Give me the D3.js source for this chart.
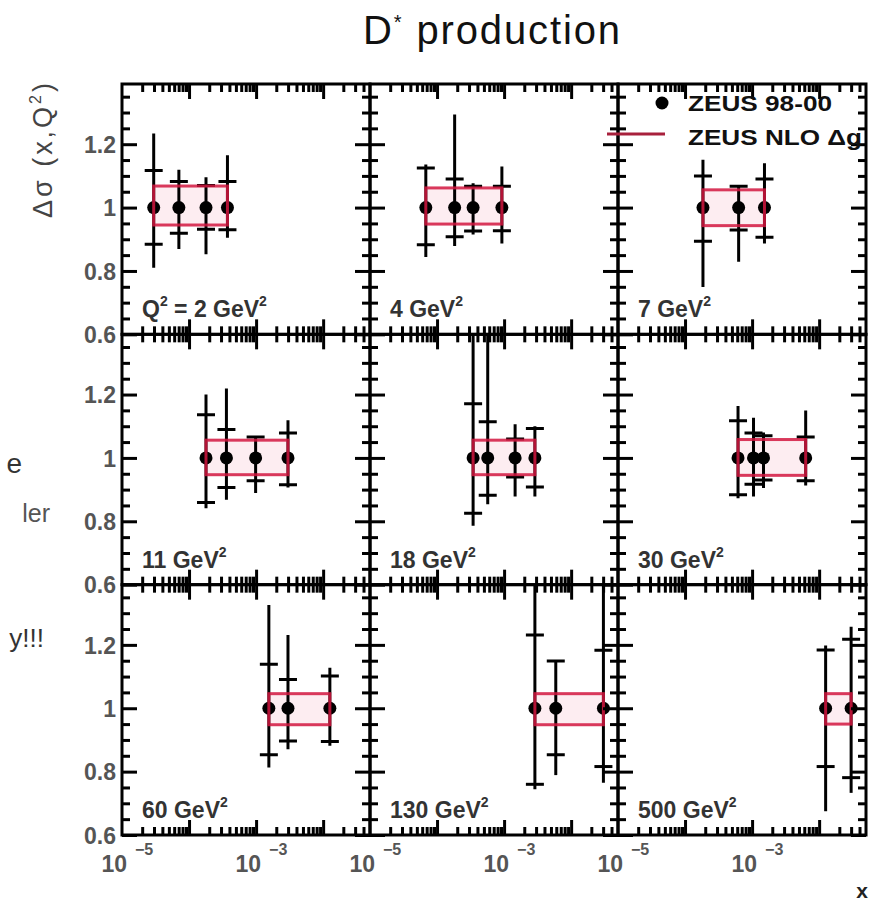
<!DOCTYPE html>
<html><head><meta charset="utf-8">
<script src="https://cdn.jsdelivr.net/npm/d3@7"></script>
<style>
body{margin:0;background:#fff}
svg{display:block}
text{font-family:"Liberation Sans",Arial,Helvetica,sans-serif}
</style>
</head><body>
<svg id="c" width="871" height="901"></svg>
<script>
// ---------------- data ----------------
const q2Values = [2, 4, 7, 11, 18, 30, 60, 130, 500];
const xPoints = [
  [2.97e-5, 7.05e-5, 1.79e-4, 3.74e-4],
  [6.8e-5, 1.83e-4, 3.45e-4, 9.27e-4],
  [1.85e-4, 6.3e-4, 1.53e-3],
  [1.79e-4, 3.61e-4, 9.84e-4, 2.99e-3],
  [3.45e-4, 5.7e-4, 1.46e-3, 2.88e-3],
  [6.17e-4, 1.05e-3, 1.48e-3, 6.3e-3],
  [1.55e-3, 2.99e-3, 1.26e-2],
  [2.88e-3, 5.9e-3, 3.03e-2],
  [1.25e-2, 3.0e-2]
];
const yPoints = [
  [1, 1, 1, 1], [1, 1, 1, 1], [1, 1, 1],
  [1, 1, 1, 1], [1, 1, 1, 1], [1, 1, 1, 1],
  [1, 1, 1], [1, 1, 1], [1, 1]
];
const totHi = [
  [1.234, 1.119, 1.096, 1.165],
  [1.136, 1.294, 1.077, 1.130],
  [1.151, 1.067, 1.140],
  [1.200, 1.219, 1.069, 1.119],
  [1.600, 1.600, 1.106, 1.100],
  [1.164, 1.127, 1.080, 1.150],
  [1.326, 1.231, 1.128],
  [1.600, 1.151, 1.600],
  [1.198, 1.257]
];
const totLo = [
  [0.810, 0.869, 0.853, 0.905],
  [0.844, 0.879, 0.915, 0.887],
  [0.749, 0.829, 0.887],
  [0.841, 0.868, 0.889, 0.907],
  [0.786, 0.854, 0.878, 0.878],
  [0.873, 0.878, 0.905, 0.913],
  [0.813, 0.871, 0.882],
  [0.744, 0.789, 0.765],
  [0.675, 0.733]
];
const statHi = [
  [1.117, 1.082, 1.070, 1.082],
  [1.125, 1.090, 1.067, 1.067],
  [1.100, 1.067, 1.090],
  [1.136, 1.090, 1.066, 1.079],
  [1.171, 1.114, 1.060, 1.093],
  [1.117, 1.079, 1.070, 1.066],
  [1.139, 1.091, 1.102],
  [1.231, 1.149, 1.183],
  [1.184, 1.218]
];
const statLo = [
  [0.884, 0.919, 0.932, 0.930],
  [0.883, 0.908, 0.926, 0.927],
  [0.894, 0.929, 0.906],
  [0.859, 0.907, 0.928, 0.915],
  [0.825, 0.882, 0.940, 0.908],
  [0.884, 0.917, 0.930, 0.928],
  [0.853, 0.897, 0.895],
  [0.760, 0.853, 0.816],
  [0.816, 0.781]
];
const bandLo = [0.945, 0.948, 0.943, 0.947, 0.947, 0.945, 0.948, 0.948, 0.950];
const bandHi = [1.068, 1.062, 1.056, 1.056, 1.056, 1.058, 1.046, 1.046, 1.046];

const xDomain = [1e-5, 0.05];
const yDomain = [0.6, 1.39];
const yMajorTicks = [0.6, 0.8, 1.0, 1.2];
const yTickLabels = ["0.6", "0.8", "1", "1.2"];
const yMinorTicks = d3.range(0.65, 1.39, 0.05).map(v => +v.toFixed(2)).filter(v => !yMajorTicks.some(m => Math.abs(m - v) < 1e-6));
const xMajorTicks = [1e-5, 1e-4, 1e-3, 1e-2];
const xLabelExponents = [-5, -3];
const legendLabels = ["ZEUS 98-00", "ZEUS NLO \u0394g"];
const titleText = ["D", "*", " production"];
const yTitle = "\u0394\u03c3 (x,Q";
const sideFragments = ["e", "ler", "y!!!"];

// ---------------- layout ----------------
const svg = d3.select("#c");
const L = 122, R = 866, T = 84, B = 835;
const colW = (R - L) / 3, rowH = (B - T) / 3;
const bandColor = "#d2163f";
const lineW = 3;

const xMinor = [];
[1e-5, 1e-4, 1e-3, 1e-2].forEach(d => {
  for (let k = 2; k <= 9; k++) { const v = d * k; if (v < xDomain[1]) xMinor.push(v); }
});

q2Values.forEach((q, i) => {
  const c = i % 3, r = Math.floor(i / 3);
  const x0 = L + c * colW, y0 = T + r * rowH;
  const xs = d3.scaleLog().domain(xDomain).range([x0, x0 + colW]);
  const ys = d3.scaleLinear().domain(yDomain).range([y0 + rowH, y0]);
  const g = svg.append("g");

  const cid = "clip" + i;
  svg.append("clipPath").attr("id", cid).append("rect")
    .attr("x", x0).attr("y", y0).attr("width", colW).attr("height", rowH);
  const pg = g.append("g").attr("clip-path", `url(#${cid})`);

  const xsArr = xPoints[i];
  const bx0 = xs(d3.min(xsArr)), bx1 = xs(d3.max(xsArr));
  pg.append("rect").attr("x", bx0).attr("y", ys(bandHi[i]))
    .attr("width", bx1 - bx0).attr("height", ys(bandLo[i]) - ys(bandHi[i]))
    .attr("fill", "rgba(240,110,140,0.12)");

  const pts = xsArr.map((x, j) => ({x, y: yPoints[i][j], th: totHi[i][j], tl: totLo[i][j], sh: statHi[i][j], sl: statLo[i][j]}));
  pg.selectAll(".eb").data(pts).join("line")
    .attr("x1", d => xs(d.x)).attr("x2", d => xs(d.x))
    .attr("y1", d => ys(d.th)).attr("y2", d => ys(d.tl))
    .attr("stroke", "#000").attr("stroke-width", lineW);
  pg.selectAll(".capH").data(pts).join("line")
    .attr("x1", d => xs(d.x) - 9).attr("x2", d => xs(d.x) + 9)
    .attr("y1", d => ys(d.sh)).attr("y2", d => ys(d.sh))
    .attr("stroke", "#000").attr("stroke-width", lineW);
  pg.selectAll(".capL").data(pts).join("line")
    .attr("x1", d => xs(d.x) - 9).attr("x2", d => xs(d.x) + 9)
    .attr("y1", d => ys(d.sl)).attr("y2", d => ys(d.sl))
    .attr("stroke", "#000").attr("stroke-width", lineW);
  pg.selectAll(".mk").data(pts).join("circle")
    .attr("cx", d => xs(d.x)).attr("cy", d => ys(d.y)).attr("r", 6.5)
    .attr("fill", "#000");
  pg.append("rect").attr("x", bx0).attr("y", ys(bandHi[i]))
    .attr("width", bx1 - bx0).attr("height", ys(bandLo[i]) - ys(bandHi[i]))
    .attr("fill", "none").attr("stroke", bandColor).attr("stroke-width", 3)
    .attr("stroke-opacity", 0.85);

  const styleAxis = sel => {
    sel.select(".domain").remove();
    sel.selectAll(".tick line").attr("stroke", "#000").attr("stroke-width", lineW);
  };
  const yMinorAx = (axis, xpos) => g.append("g").attr("transform", `translate(${xpos},0)`)
    .call(axis(ys).tickValues(yMinorTicks).tickSize(-8).tickFormat("")).call(styleAxis);
  yMinorAx(d3.axisLeft, x0);
  yMinorAx(d3.axisRight, x0 + colW);
  g.append("g").attr("transform", `translate(${x0 + colW},0)`)
    .call(d3.axisRight(ys).tickValues(yMajorTicks).tickSize(-15).tickFormat("")).call(styleAxis);
  const yl = g.append("g").attr("transform", `translate(${x0},0)`)
    .call(d3.axisLeft(ys).tickValues(yMajorTicks).tickSize(-15).tickPadding(6)
      .tickFormat((d, k) => c === 0 ? yTickLabels[k] : ""))
    .call(styleAxis);
  yl.selectAll("text").attr("font-size", 23).attr("font-weight", "bold")
    .attr("fill", "#555").attr("dy", "0.36em").attr("font-family", "'Liberation Sans',Arial,sans-serif");

  const xAx = (axis, ypos, vals, size) => g.append("g").attr("transform", `translate(0,${ypos})`)
    .call(axis(xs).tickValues(vals).tickSize(size).tickFormat("")).call(styleAxis);
  xAx(d3.axisBottom, y0 + rowH, xMinor, -8);
  xAx(d3.axisTop, y0, xMinor, -8);
  xAx(d3.axisBottom, y0 + rowH, xMajorTicks.slice(1), -15);
  xAx(d3.axisTop, y0, xMajorTicks.slice(1), -15);

  g.append("rect").attr("x", x0).attr("y", y0).attr("width", colW).attr("height", rowH)
    .attr("fill", "none").attr("stroke", "#000").attr("stroke-width", lineW);

  const lab = g.append("text").attr("x", x0 + 20).attr("y", y0 + rowH - 17)
    .attr("font-size", 23).attr("font-weight", "bold").attr("fill", "#333");
  if (i === 0) {
    lab.append("tspan").text("Q");
    lab.append("tspan").text("2").attr("font-size", 14).attr("dy", -11);
    lab.append("tspan").text(" = " + q + " GeV").attr("dy", 11);
  } else {
    lab.append("tspan").text(q + " GeV");
  }
  lab.append("tspan").text("2").attr("font-size", 14).attr("dy", -11);

  if (r === 2) {
    xLabelExponents.forEach(e => {
      const px = xs(Math.pow(10, e));
      svg.append("text").attr("x", px + 5).attr("y", 872).attr("text-anchor", "end")
        .attr("font-size", 23).attr("font-weight", "bold").attr("fill", "#555").text("10");
      svg.append("text").attr("x", px + 13).attr("y", 855).attr("font-weight", "bold")
        .attr("font-size", 16).attr("fill", "#555").text("\u2212" + Math.abs(e));
    });
  }
});

// title
svg.append("text").attr("x", 363).attr("y", 44)
  .attr("font-size", 40).attr("fill", "#111").attr("textLength", 257).attr("lengthAdjust", "spacing")
  .call(t => { t.append("tspan").text(titleText[0]); t.append("tspan").text(titleText[1]).attr("font-size", 20).attr("dy", -15);
    t.append("tspan").text(titleText[2]).attr("dy", 15); });

// y axis title
const yt = svg.append("text").attr("transform", "translate(52,218) rotate(-90)")
  .attr("font-size", 27).attr("fill", "#444").attr("textLength", 135).attr("lengthAdjust", "spacing");
yt.append("tspan").text(yTitle);
yt.append("tspan").text("2").attr("font-size", 16).attr("dy", -11);
yt.append("tspan").text(")").attr("dy", 11);

// legend
svg.append("circle").attr("cx", 662).attr("cy", 103).attr("r", 6.5).attr("fill", "#000");
svg.append("line").attr("x1", 607).attr("x2", 665).attr("y1", 134).attr("y2", 134)
  .attr("stroke", "#a8203c").attr("stroke-width", 3);
svg.append("text").attr("x", 688).attr("y", 111).attr("font-size", 22).attr("font-weight", "bold")
  .attr("fill", "#111").attr("textLength", 144).attr("lengthAdjust", "spacingAndGlyphs").text(legendLabels[0]);
svg.append("text").attr("x", 688).attr("y", 145).attr("font-size", 22).attr("font-weight", "bold")
  .attr("fill", "#111").attr("textLength", 174).attr("lengthAdjust", "spacingAndGlyphs").text(legendLabels[1]);

// x axis label
svg.append("text").attr("x", 868).attr("y", 898).attr("text-anchor", "end")
  .attr("font-size", 21).attr("font-weight", "bold").attr("fill", "#222").text("x");

// cut-off slide text on the left
svg.append("text").attr("x", 22).attr("y", 473).attr("text-anchor", "end")
  .attr("font-size", 28).attr("fill", "#333").text(sideFragments[0]);
svg.append("text").attr("x", 50).attr("y", 522).attr("text-anchor", "end")
  .attr("font-size", 25).attr("fill", "#555").text(sideFragments[1]);
svg.append("text").attr("x", 44).attr("y", 647).attr("text-anchor", "end")
  .attr("font-size", 26).attr("fill", "#333").text(sideFragments[2]);
</script>
</body></html>
